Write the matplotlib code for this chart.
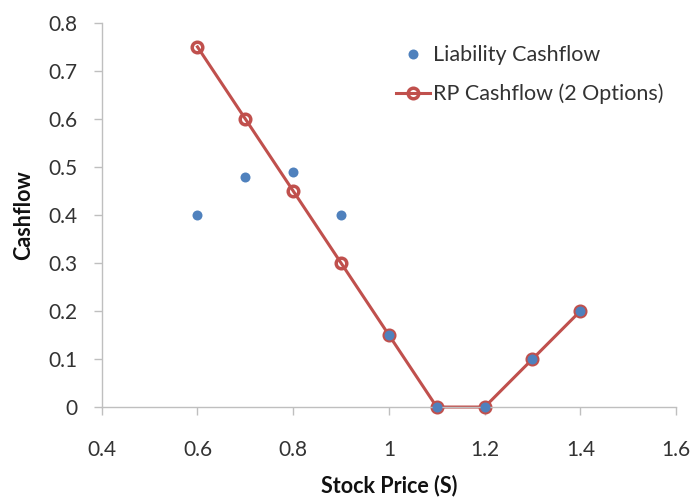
import matplotlib
matplotlib.use("Agg")
import matplotlib.pyplot as plt

plt.rcParams['font.family'] = ['Lato', 'DejaVu Sans']

stock_price = [0.6, 0.7, 0.8, 0.9, 1.0, 1.1, 1.2, 1.3, 1.4]
liability_cf = [0.40, 0.48, 0.49, 0.40, 0.15, 0.0, 0.0, 0.10, 0.20]
rp_cf = [0.75, 0.60, 0.45, 0.30, 0.15, 0.0, 0.0, 0.10, 0.20]

x_ticks = [0.4, 0.6, 0.8, 1.0, 1.2, 1.4, 1.6]
x_tick_labels = ['0.4', '0.6', '0.8', '1', '1.2', '1.4', '1.6']
y_ticks = [0, 0.1, 0.2, 0.3, 0.4, 0.5, 0.6, 0.7, 0.8]
y_tick_labels = ['0', '0.1', '0.2', '0.3', '0.4', '0.5', '0.6', '0.7', '0.8']

blue = '#4F81BD'
red = '#C0504D'
axis_gray = '#BFBFBF'
text_color = '#333333'

fig = plt.figure(figsize=(6.92, 4.97), dpi=100)
ax = fig.add_axes([0.147, 0.181, 0.83, 0.773])

ax.plot(stock_price, rp_cf, color=red, lw=2.2, marker='o', markersize=7.6,
        markerfacecolor='none', markeredgecolor=red, markeredgewidth=2.5,
        label='RP Cashflow (2 Options)', zorder=2, clip_on=False)
ax.plot(stock_price, liability_cf, linestyle='none', marker='o', markersize=7.2,
        color=blue, markeredgewidth=0, label='Liability Cashflow', zorder=3,
        clip_on=False)

ax.set_xlim(0.4, 1.6)
ax.set_ylim(0, 0.8)
ax.set_xticks(x_ticks)
ax.set_xticklabels(x_tick_labels)
ax.set_yticks(y_ticks)
ax.set_yticklabels(y_tick_labels)

for side in ['top', 'right']:
    ax.spines[side].set_visible(False)
for side in ['left', 'bottom']:
    ax.spines[side].set_color(axis_gray)
    ax.spines[side].set_linewidth(1.0)

ax.tick_params(axis='both', direction='out', length=5.5, width=1.0,
               color=axis_gray, labelsize=15, labelcolor=text_color)
ax.tick_params(axis='x', pad=18)
ax.tick_params(axis='y', pad=12)

ax.set_xlabel('Stock Price (S)', fontsize=15.5, fontweight='bold', color='#111111',
              labelpad=11)
ax.set_ylabel('Cashflow', fontsize=15.5, fontweight='bold', color='#111111',
              labelpad=10)

handles, labels = ax.get_legend_handles_labels()
leg = ax.legend(handles[::-1], labels[::-1], loc='upper left',
                bbox_to_anchor=(0.493, 0.970), frameon=False, fontsize=15.5,
                borderpad=0, handlelength=1.6, handletextpad=0.15,
                labelspacing=0.85, labelcolor=text_color)

fig.savefig('out.png', dpi=100)
